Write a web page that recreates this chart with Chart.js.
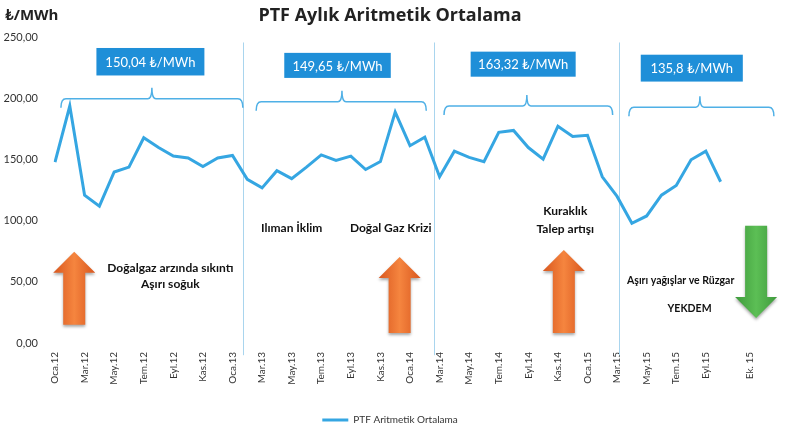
<!DOCTYPE html>
<html lang="tr">
<head>
<meta charset="utf-8">
<title>PTF Aylık Aritmetik Ortalama</title>
<script src="https://cdn.jsdelivr.net/npm/chart.js@4.4.0/dist/chart.umd.min.js"></script>
<style>
  html, body { margin: 0; padding: 0; background: #fff; }
  #wrap { width: 786px; height: 430px; position: relative; }
</style>
</head>
<body>
<div id="wrap"><canvas id="ptfChart"></canvas></div>
<script>
// aylar (Oca.12 - Oca.16), eksen biraz sağa uzuyor
const months = [
  'Oca.12','Şub.12','Mar.12','Nis.12','May.12','Haz.12','Tem.12','Ağu.12','Eyl.12','Eki.12','Kas.12','Ara.12',
  'Oca.13','Şub.13','Mar.13','Nis.13','May.13','Haz.13','Tem.13','Ağu.13','Eyl.13','Eki.13','Kas.13','Ara.13',
  'Oca.14','Şub.14','Mar.14','Nis.14','May.14','Haz.14','Tem.14','Ağu.14','Eyl.14','Eki.14','Kas.14','Ara.14',
  'Oca.15','Şub.15','Mar.15','Nis.15','May.15','Haz.15','Tem.15','Ağu.15','Eyl.15','Eki.15','Kas.15','Ara.15',
  'Oca.16'
];

// eksende görünen etiketler (iki ayda bir)
const tickLabels = [
  'Oca.12','','Mar.12','','May.12','','Tem.12','','Eyl.12','','Kas.12','',
  'Oca.13','','Mar.13','','May.13','','Tem.13','','Eyl.13','','Kas.13','',
  'Oca.14','','Mar.14','','May.14','','Tem.14','','Eyl.14','','Kas.14','',
  'Oca.15','','Mar.15','','May.15','','Tem.15','','Eyl.15','','','Ek. 15',
  ''
];

// PTF aylık aritmetik ortalama (₺/MWh)
const ptfValues = [
  148, 194, 121, 112, 140, 144, 168, 160, 153, 151.5, 144.5, 151.5,
  153.5, 134, 127, 141, 134.5, 144, 154, 149.5, 153, 142, 148.5, 189,
  161.5, 168.5, 136, 157, 152, 148.5, 172.5, 174, 160, 150.5, 177.5, 169,
  170, 136, 120, 98, 104, 121, 129, 150, 157, 132
];

const yTicks = [0, 50, 100, 150, 200, 250];

// dönem ortalamaları
const periodAverages = ['150,04 ₺/MWh', '149,65 ₺/MWh', '163,32 ₺/MWh', '135,8 ₺/MWh'];

// açıklamalar
const notes = ['Doğalgaz arzında sıkıntı', 'Aşırı soğuk', 'Ilıman İklim', 'Doğal Gaz Krizi',
  'Kuraklık', 'Talep artışı', 'Aşırı yağışlar ve Rüzgar', 'YEKDEM'];

// süsleme yerleşimi (x: ay indeksi, y: ₺/MWh)
const layoutCfg = {
  dividers: [12.7, 25.6, 38.1],
  brackets: [
    { from: 0.4, to: 12.7, y: 200, tip: 6.55 },
    { from: 13.6, to: 25.1, y: 197.5, tip: 19.4 },
    { from: 26.3, to: 37.7, y: 194, tip: 31.9 },
    { from: 38.8, to: 48.6, y: 193, tip: 43.6 }
  ],
  boxes: [
    { from: 2.8, to: 10.1, top: 241.5, bottom: 219 },
    { from: 15.5, to: 22.7, top: 237.5, bottom: 217 },
    { from: 28.1, to: 35.2, top: 238.5, bottom: 218 },
    { from: 39.6, to: 46.5, top: 236, bottom: 214 }
  ],
  texts: [
    { x: 7.8, y: 61.5, size: 12 },
    { x: 7.8, y: 48.2, size: 12 },
    { x: 16.0, y: 94.3, size: 12 },
    { x: 22.7, y: 94.3, size: 12 },
    { x: 34.5, y: 108.2, size: 12 },
    { x: 34.5, y: 93.4, size: 12 },
    { x: 42.3, y: 50.8, size: 10.5 },
    { x: 42.9, y: 27.9, size: 10.5 }
  ],
  arrows: [
    { x: 1.3, top: 74.6, bottom: 15, up: true, color: 'orange' },
    { x: 23.3, top: 70.5, bottom: 8.2, up: true, color: 'orange' },
    { x: 34.4, top: 76.2, bottom: 8.2, up: true, color: 'orange' },
    { x: 47.4, top: 96, bottom: 20.5, up: false, color: 'green' }
  ]
};

const lineBlue = '#35a6e2';
const boxBlue = '#1f8fd8';
const braceBlue = '#4fb0e6';

function drawArrow(ctx, cx, yTop, yBottom, up, kind) {
  const headW = 42, stemW = 22, headLen = 21;
  const h2 = headW / 2, s2 = stemW / 2;
  ctx.save();
  ctx.beginPath();
  if (up) {
    ctx.moveTo(cx, yTop);
    ctx.lineTo(cx + h2, yTop + headLen);
    ctx.lineTo(cx + s2, yTop + headLen);
    ctx.lineTo(cx + s2, yBottom);
    ctx.lineTo(cx - s2, yBottom);
    ctx.lineTo(cx - s2, yTop + headLen);
    ctx.lineTo(cx - h2, yTop + headLen);
  } else {
    ctx.moveTo(cx - s2, yTop);
    ctx.lineTo(cx + s2, yTop);
    ctx.lineTo(cx + s2, yBottom - headLen);
    ctx.lineTo(cx + h2, yBottom - headLen);
    ctx.lineTo(cx, yBottom);
    ctx.lineTo(cx - h2, yBottom - headLen);
    ctx.lineTo(cx - s2, yBottom - headLen);
  }
  ctx.closePath();
  const g = ctx.createLinearGradient(cx - h2, 0, cx + h2, 0);
  if (kind === 'green') {
    g.addColorStop(0, '#3f9a3c');
    g.addColorStop(0.5, '#5cbf55');
    g.addColorStop(1, '#3f9a3c');
  } else {
    g.addColorStop(0, '#d9571e');
    g.addColorStop(0.5, '#f5853f');
    g.addColorStop(1, '#d9571e');
  }
  ctx.shadowColor = 'rgba(0,0,0,0.35)';
  ctx.shadowBlur = 3;
  ctx.shadowOffsetY = 2;
  ctx.fillStyle = g;
  ctx.fill();
  ctx.restore();
}

function drawBrace(ctx, x1, x2, y, xt) {
  const curl = 9, tipH = 11;
  ctx.save();
  ctx.strokeStyle = braceBlue;
  ctx.lineWidth = 1.5;
  ctx.beginPath();
  ctx.moveTo(x1, y + curl);
  ctx.quadraticCurveTo(x1, y, x1 + 5, y);
  ctx.lineTo(xt - 4, y);
  ctx.quadraticCurveTo(xt, y, xt, y - tipH);
  ctx.quadraticCurveTo(xt, y, xt + 4, y);
  ctx.lineTo(x2 - 5, y);
  ctx.quadraticCurveTo(x2, y, x2, y + curl);
  ctx.stroke();
  ctx.restore();
}

const decorPlugin = {
  id: 'decor',
  beforeDatasetsDraw(chart) {
    const ctx = chart.ctx;
    const xs = chart.scales.x, ys = chart.scales.y;
    ctx.save();
    ctx.strokeStyle = '#a9d5ee';
    ctx.lineWidth = 1;
    layoutCfg.dividers.forEach(d => {
      const x = Math.round(xs.getPixelForValue(d)) + 0.5;
      ctx.beginPath();
      ctx.moveTo(x, ys.getPixelForValue(246));
      ctx.lineTo(x, ys.getPixelForValue(-10));
      ctx.stroke();
    });
    ctx.restore();
    layoutCfg.brackets.forEach(b => {
      drawBrace(ctx, xs.getPixelForValue(b.from), xs.getPixelForValue(b.to),
        ys.getPixelForValue(b.y), xs.getPixelForValue(b.tip));
    });
  },
  afterDatasetsDraw(chart) {
    const ctx = chart.ctx;
    const xs = chart.scales.x, ys = chart.scales.y;
    const area = chart.chartArea;

    // birim etiketi
    ctx.save();
    ctx.fillStyle = '#222';
    ctx.font = 'bold 15px "Open Sans", Lato, sans-serif';
    ctx.textAlign = 'left';
    ctx.textBaseline = 'middle';
    ctx.fillText('₺/MWh', 5, area.top - 22);
    ctx.restore();

    // ortalama kutuları
    layoutCfg.boxes.forEach((b, i) => {
      const x1 = xs.getPixelForValue(b.from), x2 = xs.getPixelForValue(b.to);
      const y1 = ys.getPixelForValue(b.top), y2 = ys.getPixelForValue(b.bottom);
      ctx.save();
      ctx.fillStyle = boxBlue;
      ctx.fillRect(x1, y1, x2 - x1, y2 - y1);
      ctx.fillStyle = '#fff';
      ctx.font = '13px Lato, "Open Sans", sans-serif';
      ctx.textAlign = 'center';
      ctx.textBaseline = 'middle';
      ctx.fillText(periodAverages[i], (x1 + x2) / 2, (y1 + y2) / 2 + 1);
      ctx.restore();
    });

    // oklar
    layoutCfg.arrows.forEach(a => {
      drawArrow(ctx, xs.getPixelForValue(a.x), ys.getPixelForValue(a.top),
        ys.getPixelForValue(a.bottom), a.up, a.color);
    });

    // açıklama yazıları
    layoutCfg.texts.forEach((t, i) => {
      ctx.save();
      ctx.fillStyle = '#111';
      ctx.font = 'bold ' + t.size + 'px Lato, "Open Sans", sans-serif';
      ctx.textAlign = 'center';
      ctx.textBaseline = 'middle';
      ctx.fillText(notes[i], xs.getPixelForValue(t.x), ys.getPixelForValue(t.y));
      ctx.restore();
    });
  }
};

const ctx = document.getElementById('ptfChart').getContext('2d');
new Chart(ctx, {
  type: 'line',
  data: {
    labels: months,
    datasets: [{
      label: 'PTF Aritmetik Ortalama',
      data: ptfValues,
      borderColor: lineBlue,
      backgroundColor: lineBlue,
      borderWidth: 3,
      pointRadius: 0,
      pointStyle: 'line',
      tension: 0,
      fill: false
    }]
  },
  options: {
    responsive: true,
    maintainAspectRatio: false,
    animation: false,
    layout: { padding: { left: 0, right: 6, top: 0, bottom: -5 } },
    scales: {
      x: {
        grid: { display: false, drawTicks: false },
        border: { display: false },
        ticks: {
          autoSkip: false,
          maxRotation: 90,
          minRotation: 90,
          padding: 9,
          color: '#333',
          font: { family: 'Lato, "Open Sans", sans-serif', size: 10 },
          callback: function(value, index) { return tickLabels[index]; }
        },
        afterFit: function(scale) { scale.height = 58; }
      },
      y: {
        min: 0,
        max: 250,
        grid: { display: false, drawTicks: false },
        border: { display: false },
        afterBuildTicks: function(scale) { scale.ticks = yTicks.map(v => ({ value: v })); },
        ticks: {
          padding: 17,
          color: '#333',
          font: { family: 'Lato, "Open Sans", sans-serif', size: 11 },
          callback: function(value) { return value.toFixed(2).replace('.', ','); }
        },
        afterFit: function(scale) { scale.width = 55; }
      }
    },
    plugins: {
      title: {
        display: true,
        text: 'PTF Aylık Aritmetik Ortalama',
        color: '#222',
        font: { family: '"Open Sans", Lato, sans-serif', size: 18, weight: 'bold' },
        padding: { top: 5, bottom: 11 }
      },
      legend: {
        position: 'bottom',
        labels: {
          usePointStyle: true,
          pointStyleWidth: 26,
          boxHeight: 10,
          padding: 14,
          color: '#333',
          font: { family: 'Lato, "Open Sans", sans-serif', size: 10 }
        }
      },
      tooltip: { enabled: false }
    }
  },
  plugins: [decorPlugin]
});
</script>
</body>
</html>
